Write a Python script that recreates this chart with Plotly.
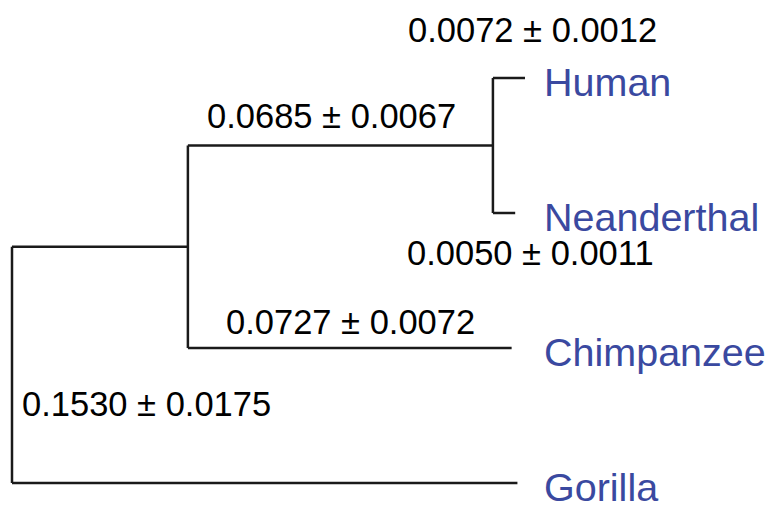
import plotly.graph_objects as go

# Tree data (Human, Neanderthal, Chimpanzee, Gorilla)
tips = ["Human", "Neanderthal", "Chimpanzee", "Gorilla"]
tip_rows = [0, 1, 2, 3]

# branch lengths and their errors
branch_names = ["Human", "Neanderthal", "Human+Neanderthal", "Chimpanzee", "Gorilla"]
branch_lengths = [0.0072, 0.0050, 0.0685, 0.0727, 0.1530]
branch_errors = [0.0012, 0.0011, 0.0067, 0.0072, 0.0175]

# part of the Gorilla branch drawn on the ingroup side of the root
root_split = 0.0395

LINE = "#1a1a1a"
BLUE = "#3a49a0"
FONT = "Liberation Sans, Arial, Helvetica, sans-serif"

bl = dict(zip(branch_names, branch_lengths))
be = dict(zip(branch_names, branch_errors))
row = dict(zip(tips, tip_rows))

# node depths
x_root = 0.0
x_ingroup = x_root + root_split
x_hn = x_ingroup + bl["Human+Neanderthal"]
x_tip = {
    "Human": x_hn + bl["Human"],
    "Neanderthal": x_hn + bl["Neanderthal"],
    "Chimpanzee": x_ingroup + bl["Chimpanzee"],
    "Gorilla": x_root + bl["Gorilla"] - root_split,
}

# node rows (midpoints of children)
y_hn = (row["Human"] + row["Neanderthal"]) / 2
y_ingroup = (y_hn + row["Chimpanzee"]) / 2

xs, ys = [], []


def seg(x0, y0, x1, y1):
    xs.extend([x0, x1, None])
    ys.extend([y0, y1, None])


# root
seg(x_root, y_ingroup, x_root, row["Gorilla"])
seg(x_root, y_ingroup, x_ingroup, y_ingroup)
seg(x_root, row["Gorilla"], x_tip["Gorilla"], row["Gorilla"])
# ingroup
seg(x_ingroup, y_hn, x_ingroup, row["Chimpanzee"])
seg(x_ingroup, y_hn, x_hn, y_hn)
seg(x_ingroup, row["Chimpanzee"], x_tip["Chimpanzee"], row["Chimpanzee"])
# human / neanderthal
seg(x_hn, row["Human"], x_hn, row["Neanderthal"])
seg(x_hn, row["Human"], x_tip["Human"], row["Human"])
seg(x_hn, row["Neanderthal"], x_tip["Neanderthal"], row["Neanderthal"])

fig = go.Figure()
fig.add_trace(go.Scatter(
    x=xs, y=ys,
    mode="lines",
    line=dict(color=LINE, width=2.5),
    hoverinfo="skip",
    showlegend=False,
))

# tip labels
label_x = max(x_tip.values()) + 0.0038
for t in tips:
    fig.add_annotation(
        x=label_x, y=row[t], text=t,
        xanchor="left", yanchor="middle", showarrow=False,
        yshift=-4,
        font=dict(family=FONT, size=39.5, color=BLUE),
    )


def blabel(name, x, y, dx, dy):
    fig.add_annotation(
        x=x, y=y, text=f"{bl[name]:.4f} ± {be[name]:.4f}",
        xanchor="center", yanchor="middle", showarrow=False,
        xshift=dx, yshift=dy,
        font=dict(family=FONT, size=34.5, color="#000000"),
    )


blabel("Human", (x_hn + x_tip["Human"]) / 2, row["Human"], 24, 48)
blabel("Neanderthal", (x_hn + x_tip["Neanderthal"]) / 2, row["Neanderthal"], 26, -40)
blabel("Human+Neanderthal", (x_ingroup + x_hn) / 2, y_hn, -9, 30)
blabel("Chimpanzee", (x_ingroup + x_tip["Chimpanzee"]) / 2, row["Chimpanzee"], 1, 26)
blabel("Gorilla", x_root, (y_ingroup + row["Gorilla"]) / 2, 134, -39)

# page body has an 8px margin, so the plot origin sits at (8, 8)
px_per_unit = 4453
fig.update_layout(
    width=767, height=503,
    margin=dict(l=0, r=0, t=0, b=0),
    paper_bgcolor="white",
    plot_bgcolor="white",
    xaxis=dict(range=[-4 / px_per_unit, 763 / px_per_unit], visible=False),
    yaxis=dict(range=[433 / 135, -70 / 135], visible=False),
)

fig.write_html("out.html")
